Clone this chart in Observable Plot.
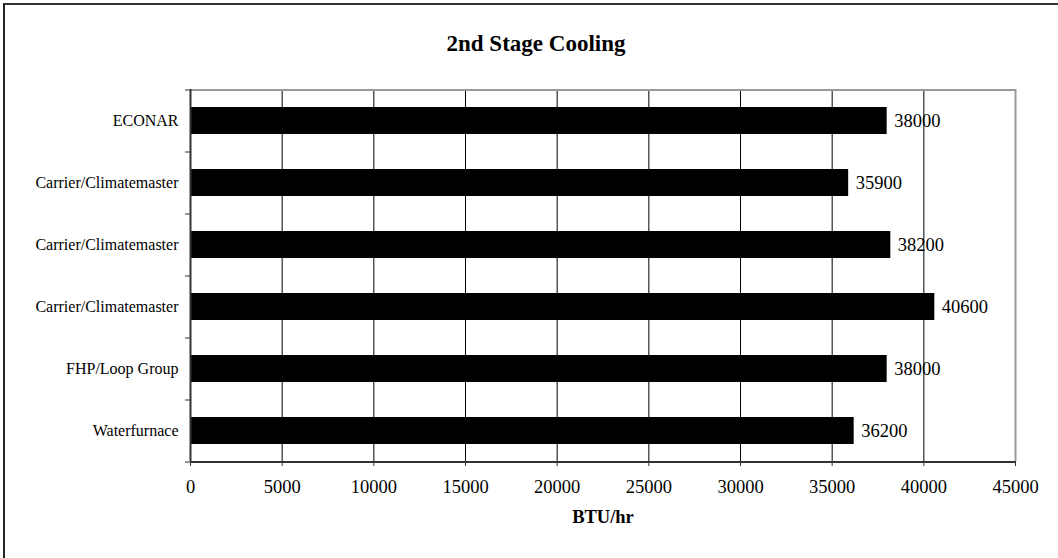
<!DOCTYPE html>
<html><head><meta charset="utf-8">
<script src="https://cdn.jsdelivr.net/npm/d3@7"></script>
<script src="https://cdn.jsdelivr.net/npm/@observablehq/plot@0.6"></script>
<style>
html,body{margin:0;padding:0;background:#fff;}
#wrap{position:relative;width:1058px;height:558px;overflow:hidden;font-family:"Liberation Serif","Times New Roman",serif;color:#000;}
#border{position:absolute;left:3px;top:3px;width:1100px;height:600px;border-left:2px solid #222;border-top:2px solid #333;pointer-events:none;}
#title{height:70px;width:1058px;box-sizing:border-box;padding-top:32px;padding-left:14px;text-align:center;font-weight:bold;font-size:23px;line-height:23px;}
#chart svg{display:block;}
</style></head>
<body><div id="wrap"><div id="border"></div><div id="title">2nd Stage Cooling</div><div id="chart"></div></div>
<script>
const categories = ["ECONAR", "Carrier/Climatemaster", "Carrier/Climatemaster", "Carrier/Climatemaster", "FHP/Loop Group", "Waterfurnace"];
const values = [38000, 35900, 38200, 40600, 38000, 36200];
const xTicks = [0, 5000, 10000, 15000, 20000, 25000, 30000, 35000, 40000, 45000];
const xLabel = "BTU/hr";

const data = categories.map((c, i) => ({id: i, name: c, value: values[i]}));
const ids = data.map(d => d.id);

const H = 488, mT = 19, mB = 97;
const step = (H - mT - mB) / categories.length;
const font = "'Liberation Serif','Times New Roman',serif";

const chart = Plot.plot({
  width: 1058,
  height: H,
  marginTop: mT,
  marginBottom: mB,
  marginLeft: 190,
  marginRight: 43,
  style: {fontFamily: font, color: "#000", background: "transparent", overflow: "visible"},
  x: {domain: [0, 45000]},
  y: {domain: ids, paddingInner: 0.565, paddingOuter: 0.2825},
  marks: [
    Plot.ruleX(xTicks.slice(1, -1), {stroke: "#000", strokeWidth: 1}),
    Plot.barX(data, {x: "value", y: "id", fill: "#000"}),
    Plot.ruleX([xTicks[xTicks.length - 1]], {stroke: "#999", strokeWidth: 2}),
    Plot.ruleY([ids[0]], {dy: -step / 2, x1: 0, x2: xTicks[xTicks.length - 1], stroke: "#999", strokeWidth: 2}),
    Plot.ruleX([0], {stroke: "#333", strokeWidth: 2}),
    Plot.ruleY([ids[ids.length - 1]], {dy: step / 2, x1: 0, x2: xTicks[xTicks.length - 1], stroke: "#333", strokeWidth: 2}),
    Plot.axisY(ids, {tickSize: 5, tickFormat: () => "", dy: -step / 2, label: null, stroke: "#333"}),
    Plot.axisY([ids[ids.length - 1]], {tickSize: 5, tickFormat: () => "", dy: step / 2, label: null, stroke: "#333"}),
    Plot.axisY(ids, {tickSize: 0, tickPadding: 12, tickFormat: i => categories[i], fontSize: 16, label: null, fill: "#000"}),
    Plot.axisX(xTicks, {tickSize: 5, tickPadding: 13, tickFormat: d3.format("d"), fontSize: 18.5, label: null, stroke: "#333", fill: "#000"}),
    Plot.text(data, {x: "value", y: "id", text: d => String(d.value), dx: 7, textAnchor: "start", lineAnchor: "middle", fontSize: 18.5, fill: "#000"}),
    Plot.text([xLabel], {frameAnchor: "bottom", lineAnchor: "middle", dy: 56, fontWeight: "bold", fontSize: 18.5, fill: "#000"})
  ]
});
document.getElementById("chart").appendChild(chart);
</script>
</body></html>
